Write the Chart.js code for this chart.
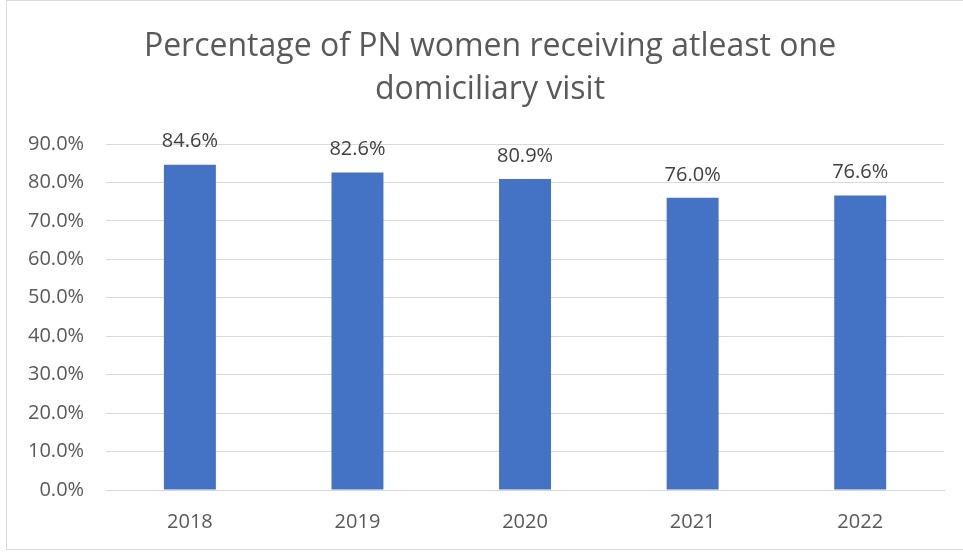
<!DOCTYPE html>
<html>
<head>
<meta charset="utf-8">
<script src="https://cdn.jsdelivr.net/npm/chart.js@4"></script>
<style>
    body { margin: 0; background: #fff; }
    #frame {
        position: absolute; left: 6px; top: 0; width: 1000px; height: 548px;
        border: 1px solid #d9d9d9; border-right: none;
    }
    #myChart { position: absolute; left: 0; top: 0; }
</style>
</head>
<body>
<div id="frame"></div>
<canvas id="myChart" width="963" height="555"></canvas>
<script>
const years = ['2018', '2019', '2020', '2021', '2022'];
const visitPct = [84.6, 82.6, 80.9, 76.0, 76.6];
const titleLines = ['Percentage of PN women receiving atleast one', 'domiciliary visit'];

const fontFamily = '"Open Sans", "Noto Sans", sans-serif';

// titre dessiné à la main (centré comme dans Excel, pas sur le canvas)
const chartTitle = {
    id: 'chartTitle',
    afterDraw(chart) {
        const ctx = chart.ctx;
        ctx.save();
        ctx.font = '32px ' + fontFamily;
        ctx.fillStyle = '#595959';
        ctx.textAlign = 'center';
        ctx.textBaseline = 'middle';
        titleLines.forEach((line, i) => {
            ctx.fillText(line, 490, 47 + i * 43);
        });
        ctx.restore();
    }
};

// étiquettes au-dessus des barres
const barLabels = {
    id: 'barLabels',
    afterDatasetsDraw(chart) {
        const ctx = chart.ctx;
        const meta = chart.getDatasetMeta(0);
        ctx.save();
        ctx.font = '20px ' + fontFamily;
        ctx.fillStyle = '#404040';
        ctx.textAlign = 'center';
        ctx.textBaseline = 'middle';
        meta.data.forEach((bar, i) => {
            ctx.fillText(visitPct[i].toFixed(1) + '%', bar.x, bar.y - 23);
        });
        ctx.restore();
    }
};

const ctx = document.getElementById('myChart').getContext('2d');
new Chart(ctx, {
    type: 'bar',
    data: {
        labels: years,
        datasets: [{
            data: visitPct,
            backgroundColor: '#4472C4',
            borderWidth: 0,
            categoryPercentage: 1,
            barPercentage: 0.31
        }]
    },
    options: {
        responsive: false,
        animation: false,
        devicePixelRatio: 1,
        layout: { padding: { top: 144, right: 19, bottom: 9, left: 6 } },
        plugins: {
            legend: { display: false },
            tooltip: { enabled: false },
            title: { display: false }
        },
        scales: {
            x: {
                grid: { display: false },
                border: { display: true, color: '#d9d9d9' },
                ticks: {
                    color: '#595959',
                    font: { family: fontFamily, size: 20 },
                    padding: 12
                }
            },
            y: {
                min: 0,
                max: 90,
                grid: { color: '#d9d9d9', drawTicks: false },
                border: { display: false },
                ticks: {
                    stepSize: 10,
                    color: '#595959',
                    font: { family: fontFamily, size: 20 },
                    padding: 22,
                    callback: (v) => v.toFixed(1) + '%'
                }
            }
        }
    },
    plugins: [barLabels, chartTitle]
});
</script>
</body>
</html>
